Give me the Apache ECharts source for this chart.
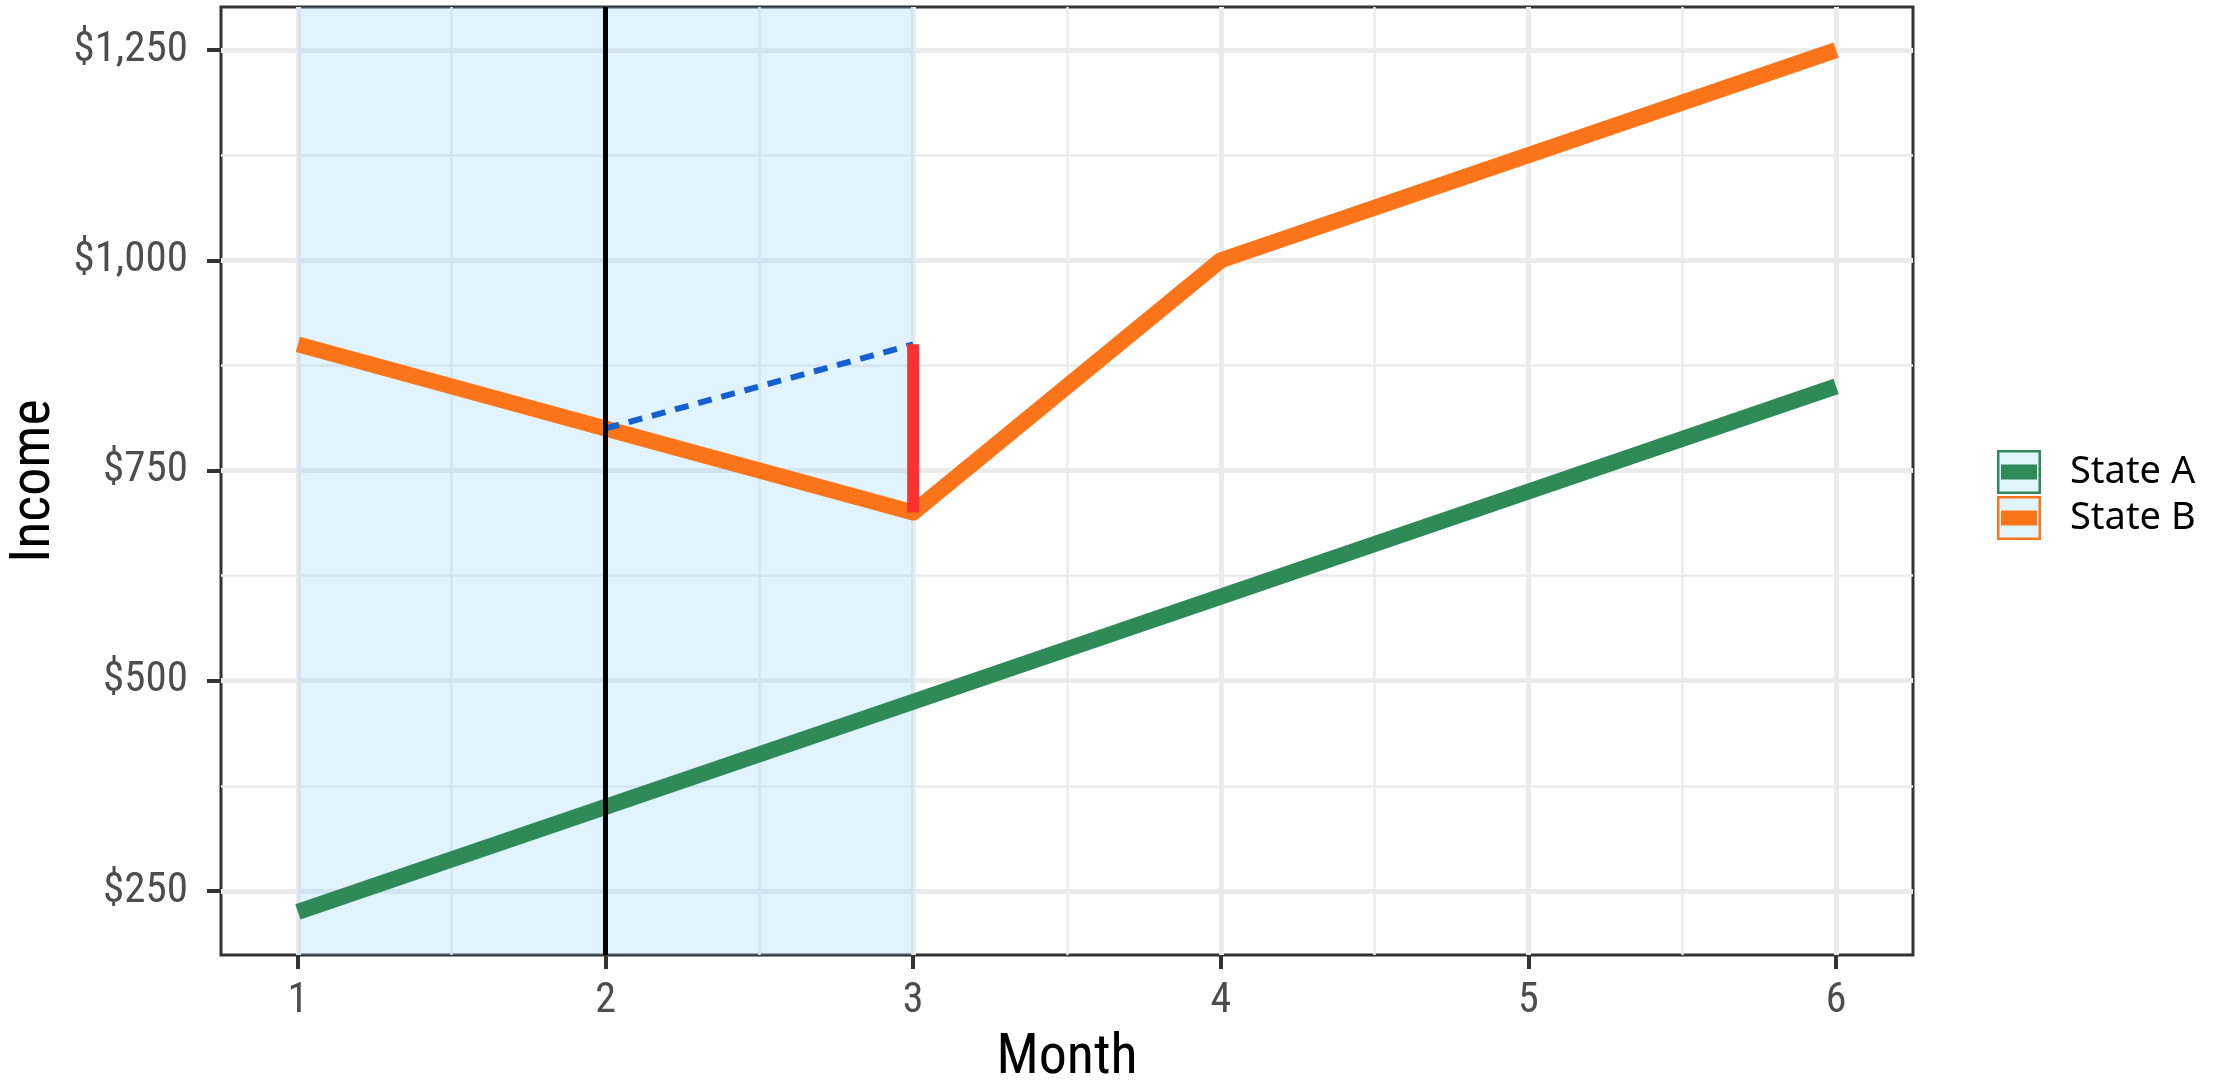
<!DOCTYPE html>
<html>
<head>
<meta charset="utf-8">
<script src="https://cdn.jsdelivr.net/npm/echarts@6/dist/echarts.min.js"></script>
<style>
html,body{margin:0;padding:0;background:#fff;}
#chart{width:2227px;height:1080px;}
</style>
</head>
<body>
<div id="chart"></div>
<script>
// ---- data ----
const months = [1, 2, 3, 4, 5, 6];
const stateA = [225, 350, 475, 600, 725, 850];
const stateB = [900, 800, 700, 1000, 1125, 1250];
const xTicks = [1, 2, 3, 4, 5, 6];
const xMinorTicks = [1.5, 2.5, 3.5, 4.5, 5.5];
const yTicks = [250, 500, 750, 1000, 1250];
const yMinorTicks = [375, 625, 875, 1125];
const xRange = [0.75, 6.25];
const yRange = [173.75, 1301.25];
const shadeRange = [1, 3];
const vlineMonth = 2;
const counterfactualX = [2, 3];
const counterfactualY = [800, 900];
const effectX = [3, 3];
const effectY = [700, 900];
const seriesNames = ['State A', 'State B'];

const condFont = "'Liberation Sans Narrow', 'Roboto Condensed', 'Noto Sans', sans-serif";
const regFont = "'Noto Sans', sans-serif";
const green = '#2E8B57';
const orange = '#FC7419';

const pairs = (xs, ys) => xs.map((x, i) => [x, ys[i]]);
const fmtMoney = v => '$' + Number(v).toLocaleString('en-US');

const keyPath = 'path://M0 0H44V44H0Z M2.5 2.5V41.5H41.5V2.5Z M4 14.5H40V29.5H4Z';

const chart = echarts.init(document.getElementById('chart'), null, {renderer: 'canvas'});

const legendBase = {
  orient: 'vertical',
  left: 1997,
  top: 450,
  padding: 0,
  itemWidth: 44,
  itemHeight: 44,
  itemGap: 2,
  selectedMode: false,
  textStyle: {fontFamily: regFont, fontSize: 38, color: '#000', padding: [0, 0, 0, 24], lineHeight: 44}
};

const option = {
  animation: false,
  backgroundColor: '#fff',
  grid: {
    left: 221, top: 7, width: 1692, height: 948,
    outerBoundsMode: 'none', containLabel: false,
    show: true, borderColor: '#333333', borderWidth: 3, backgroundColor: 'transparent'
  },
  legend: [
    Object.assign({}, legendBase, {
      z: 1,
      data: seriesNames.map(n => ({name: n, icon: 'rect', itemStyle: {color: '#E0F4FC', borderWidth: 0}})),
      textStyle: Object.assign({}, legendBase.textStyle, {color: 'rgba(0,0,0,0)'})
    }),
    Object.assign({}, legendBase, {
      z: 3,
      data: seriesNames.map(n => ({name: n, icon: keyPath}))
    })
  ],
  xAxis: [
    {
      type: 'value', min: xRange[0], max: xRange[1],
      name: 'Month', nameLocation: 'middle', nameGap: 76,
      nameTextStyle: {fontFamily: condFont, fontSize: 56, color: '#000'},
      axisLine: {show: false},
      axisTick: {show: true, customValues: xTicks, length: 14, lineStyle: {color: '#333', width: 4}},
      axisLabel: {show: true, customValues: xTicks, margin: 25, fontFamily: condFont, fontSize: 42, color: '#4D4D4D'},
      splitLine: {show: true, lineStyle: {color: '#EBEBEB', width: 5}}
    },
    {
      type: 'value', min: xRange[0], max: xRange[1], position: 'bottom',
      axisLine: {show: false},
      axisTick: {show: false, customValues: xMinorTicks},
      axisLabel: {show: false, customValues: xMinorTicks},
      splitLine: {show: true, lineStyle: {color: '#EBEBEB', width: 2.5}}
    }
  ],
  yAxis: [
    {
      type: 'value', min: yRange[0], max: yRange[1],
      name: 'Income', nameLocation: 'middle', nameGap: 154, nameRotate: 90,
      nameTextStyle: {fontFamily: condFont, fontSize: 56, color: '#000'},
      axisLine: {show: false},
      axisTick: {show: true, customValues: yTicks, length: 14, lineStyle: {color: '#333', width: 4}},
      axisLabel: {show: true, customValues: yTicks, margin: 33, fontFamily: condFont, fontSize: 43, color: '#4D4D4D', formatter: fmtMoney},
      splitLine: {show: true, lineStyle: {color: '#EBEBEB', width: 5}}
    },
    {
      type: 'value', min: yRange[0], max: yRange[1], position: 'left',
      axisLine: {show: false},
      axisTick: {show: false, customValues: yMinorTicks},
      axisLabel: {show: false, customValues: yMinorTicks},
      splitLine: {show: true, lineStyle: {color: '#EBEBEB', width: 2.5}}
    }
  ],
  series: [
    {
      name: 'annotations', type: 'line', data: [], z: 1, silent: true,
      markArea: {
        silent: true,
        itemStyle: {color: 'rgba(135,206,250,0.25)'},
        data: [[{xAxis: shadeRange[0]}, {xAxis: shadeRange[1]}]]
      },
      markLine: {
        silent: true, symbol: 'none', label: {show: false},
        lineStyle: {color: '#000', width: 5, type: 'solid'},
        data: [{xAxis: vlineMonth}]
      }
    },
    {
      name: seriesNames[0], type: 'line', z: 3, showSymbol: false, symbol: 'none',
      data: pairs(months, stateA),
      itemStyle: {color: green},
      lineStyle: {color: green, width: 16, cap: 'butt', join: 'round'}
    },
    {
      name: seriesNames[1], type: 'line', z: 3, showSymbol: false, symbol: 'none',
      data: pairs(months, stateB),
      itemStyle: {color: orange},
      lineStyle: {color: orange, width: 16, cap: 'butt', join: 'round'}
    },
    {
      name: 'counterfactual', type: 'line', z: 4, showSymbol: false, symbol: 'none', silent: true,
      data: pairs(counterfactualX, counterfactualY),
      lineStyle: {color: '#1560D0', width: 6, type: [14, 10]}
    },
    {
      name: 'effect', type: 'line', z: 5, showSymbol: false, symbol: 'none', silent: true,
      data: pairs(effectX, effectY),
      lineStyle: {color: '#FF3030', width: 12, cap: 'butt'}
    }
  ]
};
chart.setOption(option);
</script>
</body>
</html>
